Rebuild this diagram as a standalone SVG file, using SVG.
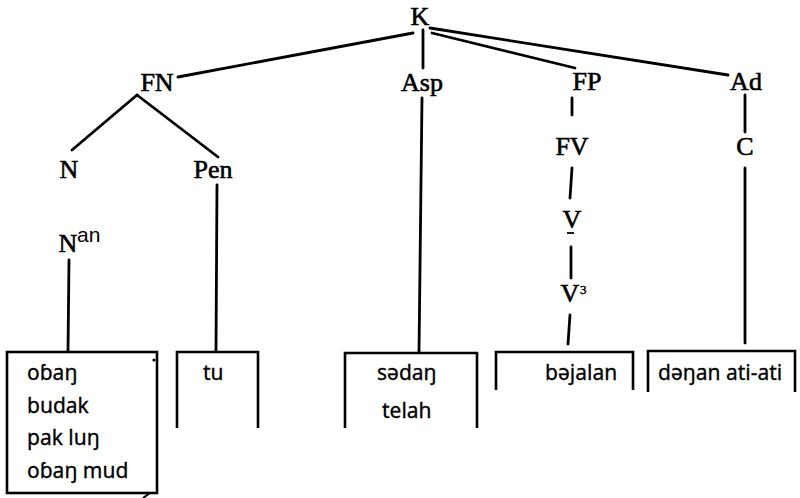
<svg xmlns="http://www.w3.org/2000/svg" width="800" height="498" viewBox="0 0 800 498">
  <style>
    .lbl { font-family: "Liberation Serif", "Times New Roman", serif; font-size: 26px; fill: #000; stroke: #000; stroke-width: 0.6; text-anchor: middle; }
    .sup { font-family: "Liberation Sans", Arial, sans-serif; font-size: 21px; fill: #000; }
    .sup3 { font-family: "Liberation Serif", serif; font-size: 13px; fill: #000; stroke: #000; stroke-width: 0.4; }
    .word { font-family: "Noto Sans", "DejaVu Sans", sans-serif; font-size: 21px; fill: #000; stroke: #000; stroke-width: 0.3; }
    .edge { stroke: #000; stroke-width: 2.8; stroke-linecap: round; fill: none; }
    .box { stroke: #000; stroke-width: 2.6; fill: none; stroke-linejoin: miter; }
  </style>
  <rect width="800" height="498" fill="#fff"/>

  <!-- branches of the tree -->
  <g id="connectors">
    <line class="edge" x1="413" y1="33" x2="178" y2="77"/>
    <line class="edge" x1="423" y1="30" x2="423" y2="68"/>
    <line class="edge" x1="432" y1="33" x2="575" y2="68"/>
    <line class="edge" x1="430" y1="28" x2="728" y2="75"/>
    <line class="edge" x1="137" y1="95" x2="72" y2="150"/>
    <line class="edge" x1="137" y1="95" x2="218" y2="157"/>
    <line class="edge" x1="69" y1="260" x2="68" y2="351"/>
    <line class="edge" x1="217" y1="185" x2="216" y2="351"/>
    <line class="edge" x1="422" y1="98" x2="419" y2="352"/>
    <line class="edge" x1="572" y1="98" x2="572" y2="115"/>
    <line class="edge" x1="572" y1="168" x2="570" y2="198"/>
    <line class="edge" x1="571" y1="247" x2="571" y2="278"/>
    <line class="edge" x1="570" y1="315" x2="568" y2="344"/>
    <line class="edge" x1="745" y1="95" x2="745" y2="132"/>
    <line class="edge" x1="745" y1="168" x2="745" y2="343"/>
  </g>

  <g id="K"><text class="lbl" x="420" y="25">K</text></g>
  <g id="FN"><text class="lbl" x="157" y="91">FN</text></g>
  <g id="Asp"><text class="lbl" x="422" y="91">Asp</text></g>
  <g id="FP"><text class="lbl" x="587" y="90">FP</text></g>
  <g id="Ad"><text class="lbl" x="746" y="90">Ad</text></g>
  <g id="N"><text class="lbl" x="69" y="178">N</text></g>
  <g id="Pen"><text class="lbl" x="213" y="178">Pen</text></g>
  <g id="FV"><text class="lbl" x="572" y="155">FV</text></g>
  <g id="C"><text class="lbl" x="745" y="155">C</text></g>
  <g id="Nan">
    <text class="lbl" x="68" y="252">N</text>
    <text class="sup" x="77" y="242">an</text>
  </g>
  <g id="V">
    <text class="lbl" x="572" y="228">V</text>
    <line x1="567" y1="233" x2="574" y2="233" stroke="#000" stroke-width="1.8"/>
  </g>
  <g id="V3">
    <text class="lbl" x="570" y="302">V</text>
    <text class="sup3" x="580" y="294">3</text>
  </g>

  <!-- lexical boxes -->
  <g id="box-nouns">
    <rect class="box" x="7" y="352" width="150" height="141"/>
    <circle cx="154" cy="360" r="1.6" fill="#000"/>
    <path d="M143 498 L150 493 L154 493" stroke="#000" stroke-width="2" fill="none"/>
    <text class="word" x="27" y="380">oɓaŋ</text>
    <text class="word" x="27" y="413">budak</text>
    <text class="word" x="27" y="445">pak luŋ</text>
    <text class="word" x="27" y="478">oɓaŋ mud</text>
  </g>
  <g id="box-tu">
    <path class="box" d="M177 428 V352 H258 V428"/>
    <text class="word" x="203" y="380">tu</text>
  </g>
  <g id="box-sedang">
    <path class="box" d="M345 428 V353 H477 V428"/>
    <text class="word" x="377" y="380">sədaŋ</text>
    <text class="word" x="382" y="418">telah</text>
  </g>
  <g id="box-berjalan">
    <path class="box" d="M496 390 V352 H633 V390"/>
    <text class="word" x="545" y="380">bəjalan</text>
  </g>
  <g id="box-dengan">
    <path class="box" d="M648 392 V351 H795 V392"/>
    <text class="word" x="658" y="380">dəŋan ati-ati</text>
  </g>
</svg>
